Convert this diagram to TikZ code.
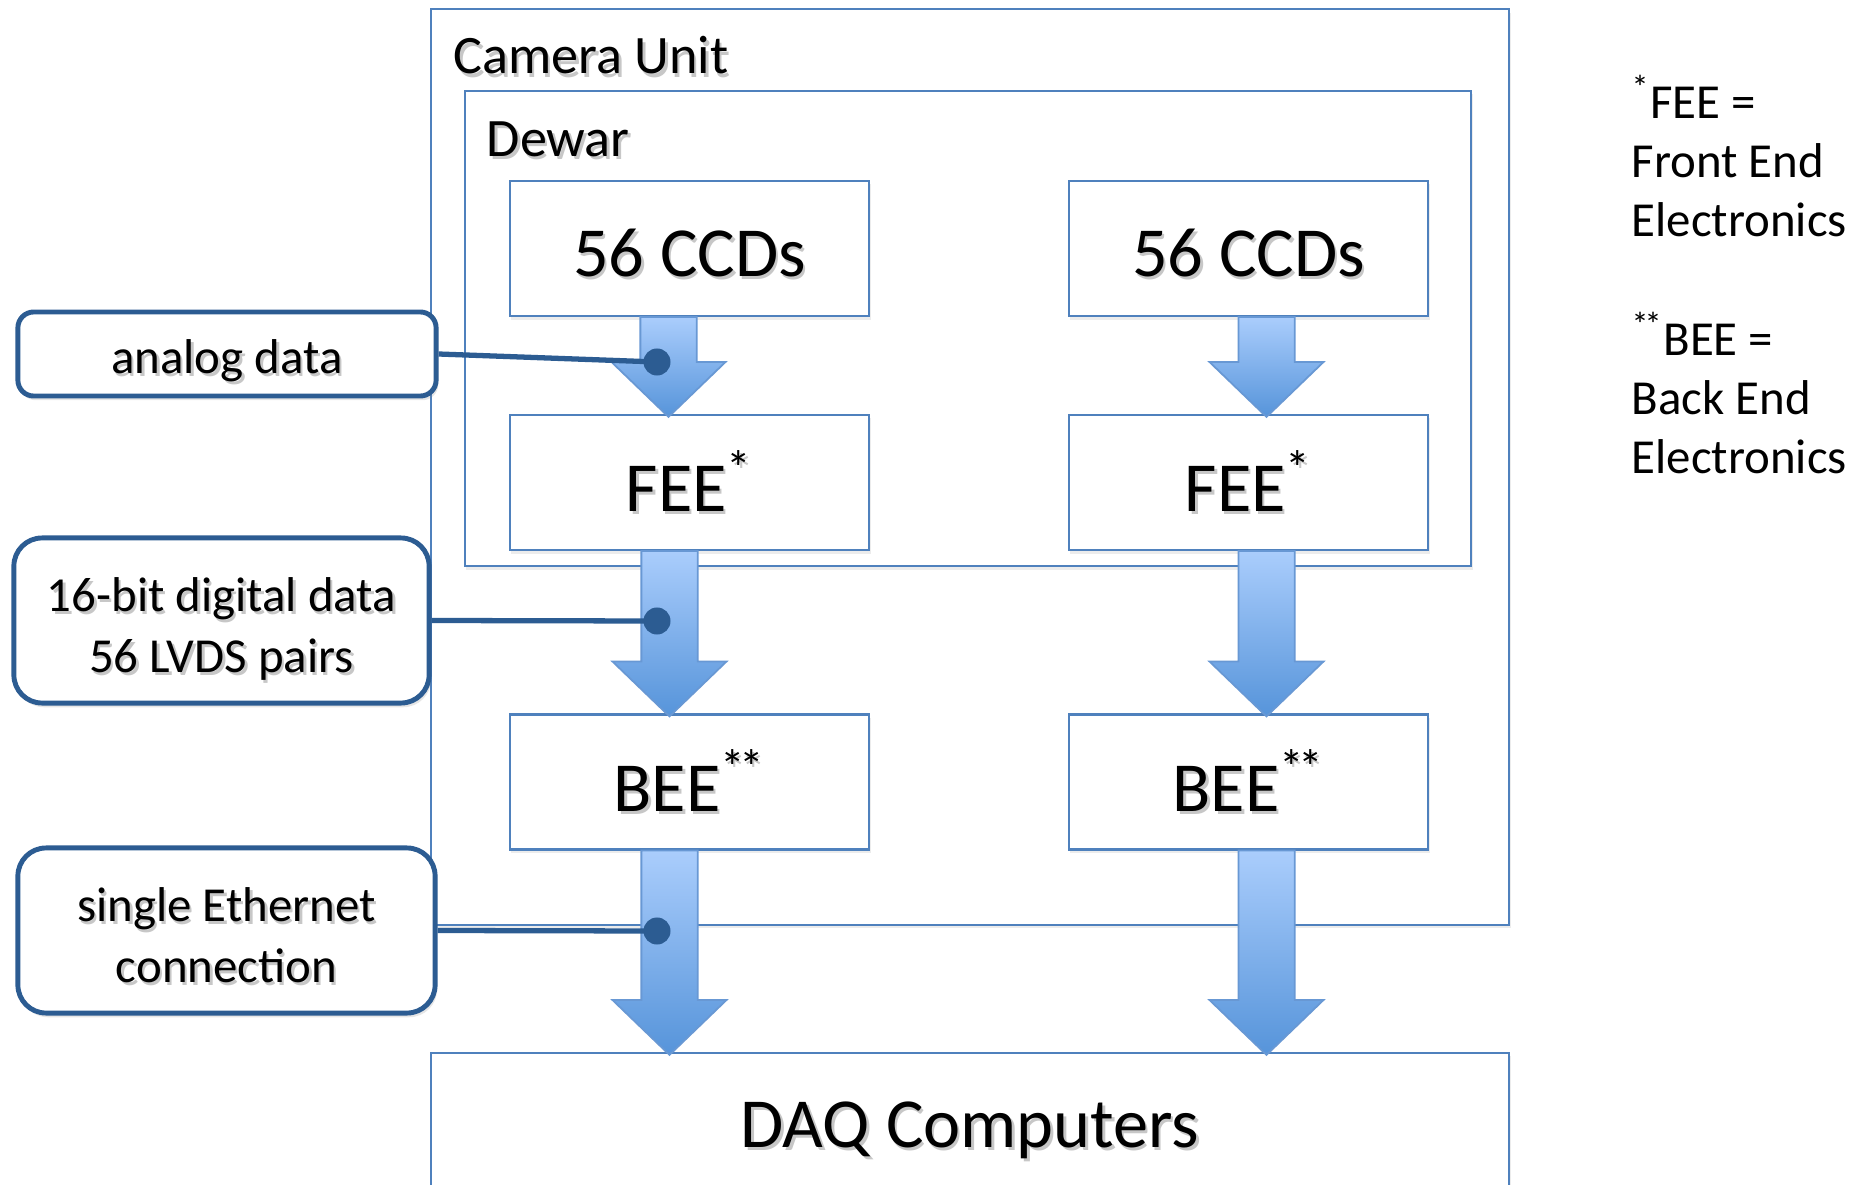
\documentclass[tikz,border=0pt]{standalone}
\usepackage{fontspec}
\setmainfont{Carlito}
\usepackage{xcolor}
\usetikzlibrary{calc,shadows}

\definecolor{boxblue}{RGB}{79,129,189}
\definecolor{calblue}{RGB}{44,92,146}
\definecolor{arrtop}{RGB}{170,205,252}
\definecolor{arrbot}{RGB}{86,148,218}
\definecolor{arredge}{RGB}{104,152,212}

\newcommand{\shd}[2][0pt]{\raisebox{-#1}[\height][\depth]{\rlap{\kern0.7pt\raisebox{-0.9pt}{\color{black!22}#2}}#2}}
\newcommand{\fatarrow}[3]{%
  \path[fat] let \p1=($(#1.south)+(#3,0)$), \p2=($(#2.north)+(#3,3)$) in
    (\x1-8pt,\y1) -- (\x1+8pt,\y1) -- (\x1+8pt,\y2+15.6pt) -- (\x1+16.2pt,\y2+15.6pt)
    -- (\x1,\y2) -- (\x1-16.2pt,\y2+15.6pt) -- (\x1-8pt,\y2+15.6pt) -- cycle;}

\begin{document}
\begin{tikzpicture}[
    x=0.01cm, y=-0.01cm,
    font=\fontsize{13.9}{17.4}\selectfont,
    frame/.style={draw=boxblue, line width=0.6pt, fill=white,
        drop shadow={opacity=0.15, shadow xshift=0.4pt, shadow yshift=-1pt}},
    block/.style={frame, minimum width=3.59cm, minimum height=1.35cm, inner sep=0pt,
        font=\fontsize{20}{24}\selectfont},
    title/.style={anchor=west, inner sep=0pt, font=\fontsize{15.4}{18}\selectfont},
    callout/.style={draw=calblue, line width=1.4pt, fill=white, align=center, inner sep=0pt,
        drop shadow={opacity=0.2, shadow xshift=0.6pt, shadow yshift=-1.2pt}},
    link/.style={draw=calblue, line width=1.5pt},
    dot/.style={circle, fill=calblue, minimum size=0.27cm, inner sep=0pt},
    fat/.style={draw=arredge, line width=0.5pt, top color=arrtop, bottom color=arrbot},
    note/.style={anchor=west, align=left, inner sep=0pt, font=\fontsize{13.9}{16.8}\selectfont}
]
\useasboundingbox (0,0) rectangle (1863,1185);

\node[frame, minimum width=10.78cm, minimum height=9.15cm] (camera) at (970,467) {};
\node[title] (camlabel) at (453,57) {\shd{Camera Unit}};
\node[frame, minimum width=10.06cm, minimum height=4.75cm] (dewar) at (968,328.5) {};
\node[title] (dewlabel) at (486,141) {\shd{Dewar}};

\node[block] (ccdL) at (689.5,248.5) {\shd[1.7pt]{56 CCDs}};
\node[block] (ccdR) at (1248.5,248.5) {\shd[1.7pt]{56 CCDs}};
\node[block] (feeL) at (689.5,482.5) {\shd{FEE\textsuperscript{*}}};
\node[block] (feeR) at (1248.5,482.5) {\shd{FEE\textsuperscript{*}}};
\node[block] (beeL) at (689.5,782) {\shd{BEE\textsuperscript{*\kern-0.12em*}}};
\node[block] (beeR) at (1248.5,782) {\shd{BEE\textsuperscript{*\kern-0.12em*}}};
\node[block, minimum width=10.78cm, minimum height=1.46cm] (daq) at (970,1126) {\shd[1.7pt]{DAQ Computers}};

\fatarrow{ccdL}{feeL}{-21}
\fatarrow{ccdR}{feeR}{18}
\fatarrow{feeL}{beeL}{-20}
\fatarrow{feeR}{beeR}{18}
\fatarrow{beeL}{daq.north -| ccdL}{-20}
\fatarrow{beeR}{daq.north -| ccdR}{18}

\node[callout, minimum width=4.18cm, minimum height=0.84cm, rounded corners=4.5pt] (analog) at (227,354) {\shd[2.4pt]{analog data}};
\node[callout, minimum width=4.15cm, minimum height=1.65cm, rounded corners=8pt] (digital) at (221.5,620.5) {\shd[2.9pt]{16-bit digital data}\\\shd[2.9pt]{56 LVDS pairs}};
\node[callout, minimum width=4.17cm, minimum height=1.65cm, rounded corners=8pt] (ether) at (226.5,930.5) {\shd[1.7pt]{single Ethernet}\\\shd[1.7pt]{connection}};

\coordinate (tapA) at (657,362);
\coordinate (tapB) at (657,621);
\coordinate (tapC) at (657,931);
\draw[link] (analog.east) -- (tapA);
\draw[link] (digital.east) -- (tapB);
\draw[link] (ether.east) -- (tapC);
\node[dot] (dotA) at (tapA) {};
\node[dot] (dotB) at (tapB) {};
\node[dot] (dotC) at (tapC) {};

\node[note] (feenote) at (1631,156) {\textsuperscript{*}FEE =\\Front End\\Electronics};
\node[note] (beenote) at (1631,393) {\textsuperscript{*\kern-0.12em*}BEE =\\Back End\\Electronics};
\end{tikzpicture}
\end{document}
